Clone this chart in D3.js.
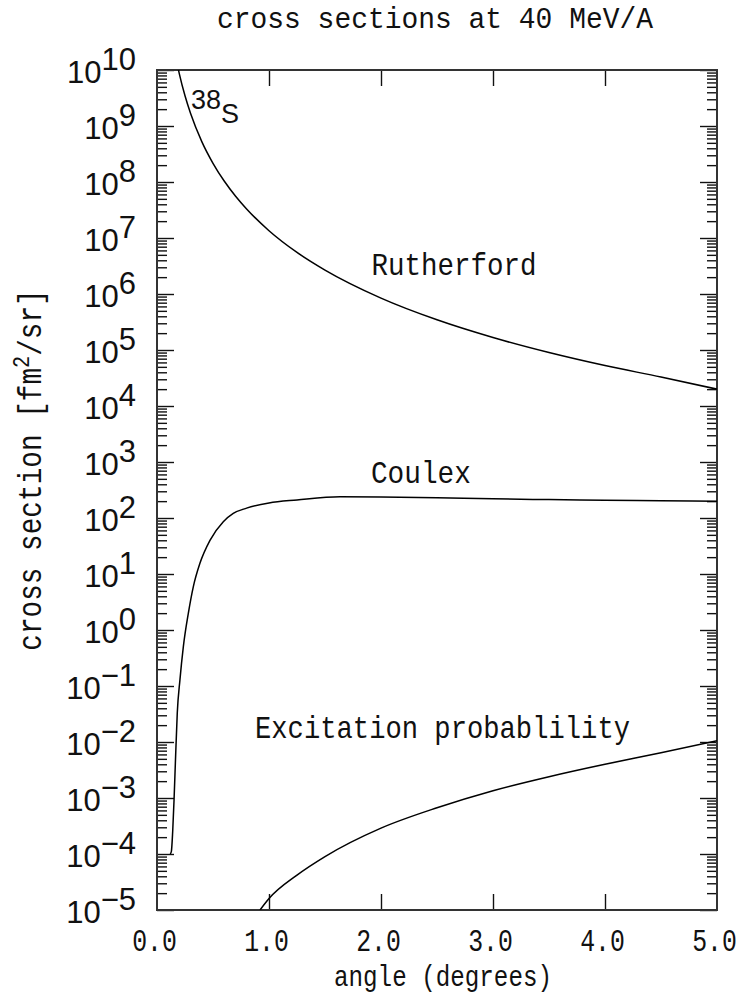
<!DOCTYPE html>
<html><head><meta charset="utf-8">
<script src="https://cdn.jsdelivr.net/npm/d3@7"></script>
<style>
html,body{margin:0;padding:0;background:#fff;}
svg{display:block;}
.mono{font-family:"Liberation Mono","Courier New",monospace;fill:#111;}
.sans{font-family:"Liberation Sans",Arial,sans-serif;fill:#111;}
</style></head>
<body>
<script>
// ---- data ----
const xTicks = [0, 1, 2, 3, 4, 5];
const xTickLabels = ["0.0", "1.0", "2.0", "3.0", "4.0", "5.0"];
const yExponents = [-5, -4, -3, -2, -1, 0, 1, 2, 3, 4, 5, 6, 7, 8, 9, 10];
const yTickLabels = ["−5", "−4", "−3", "−2", "−1", "0", "1", "2", "3", "4", "5", "6", "7", "8", "9", "10"];

const rutherfordAngle = [0.19, 0.2, 0.25, 0.3, 0.4, 0.5, 0.6, 0.7, 0.8, 1.0, 1.25, 1.5, 2.0, 2.5, 3.0, 3.5, 4.0, 4.5, 5.0];
const rutherfordValue = [1.04e10, 8.44e9, 3.46e9, 1.67e9, 5.27e8, 2.16e8, 1.04e8, 5.62e7, 3.30e7, 1.35e7, 5.53e6, 2.67e6, 8.44e5, 3.46e5, 1.67e5, 9.0e4, 5.27e4, 3.29e4, 2.0e4];

const coulexAngle = [0.118, 0.128, 0.14, 0.152, 0.165, 0.181, 0.205, 0.235, 0.28, 0.324, 0.384, 0.473, 0.592, 0.681, 0.8, 1.0, 1.25, 1.634, 2.0, 2.5, 3.0, 3.5, 4.0, 4.5, 5.0];
const coulexValue = [1e-4, 1.1e-4, 2.5e-4, 9e-4, 4.8e-3, 3.3e-2, 0.13, 0.5, 2.0, 5.9, 15.7, 40, 86, 121, 150, 186, 210, 240, 238, 230, 220, 213, 208, 203, 199];

const excitationAngle = [0.92, 1.0, 1.25, 1.5, 2.0, 2.5, 3.0, 3.5, 4.0, 4.5, 5.0];
const excitationValue = [1.0e-5, 1.6e-5, 4.2e-5, 9e-5, 2.9e-4, 6.7e-4, 1.35e-3, 2.4e-3, 4.0e-3, 6.4e-3, 1.05e-2];

const curveLabels = [
  {text: "Rutherford", angle: 1.915, value: 2.2e6, len: 165},
  {text: "Coulex", angle: 1.91, value: 4.2e2, len: 100},
  {text: "Excitation probablility", angle: 0.875, value: 1.18e-2, len: 375}
];

// ---- layout ----
const W = 742, H = 1004;
const m = {left: 157, top: 70, right: 717, bottom: 910};

const svg = d3.select("body").append("svg").attr("width", W).attr("height", H);

const x = d3.scaleLinear().domain([0, 5]).range([m.left, m.right]);
const y = d3.scaleLog().domain([1e-5, 1e10]).range([m.bottom, m.top]);

svg.append("defs").append("clipPath").attr("id", "clip")
  .append("rect").attr("x", m.left).attr("y", m.top)
  .attr("width", m.right - m.left).attr("height", m.bottom - m.top);

// ticks
const majorY = yExponents.map(e => Math.pow(10, e));
const minorY = [];
yExponents.slice(0, -1).forEach(e => { for (let k = 2; k <= 9; k++) minorY.push(k * Math.pow(10, e)); });

function tickGroup(axis, tx, ty) {
  const g = svg.append("g").attr("transform", `translate(${tx},${ty})`).call(axis);
  g.select(".domain").remove();
  g.selectAll("text").remove();
  g.selectAll("line").attr("stroke", "#111").attr("stroke-width", 1.4);
  return g;
}
const inner = xTicks.filter(v => v > 0 && v < 5);
tickGroup(d3.axisBottom(x).tickValues(inner).tickSizeInner(-16).tickSizeOuter(0), 0, m.bottom);
tickGroup(d3.axisTop(x).tickValues(inner).tickSizeInner(-16).tickSizeOuter(0), 0, m.top);
tickGroup(d3.axisLeft(y).tickValues(majorY).tickSizeInner(-17).tickSizeOuter(0), m.left, 0);
tickGroup(d3.axisLeft(y).tickValues(minorY).tickSizeInner(-10).tickSizeOuter(0), m.left, 0);
tickGroup(d3.axisRight(y).tickValues(majorY).tickSizeInner(-17).tickSizeOuter(0), m.right, 0);
tickGroup(d3.axisRight(y).tickValues(minorY).tickSizeInner(-10).tickSizeOuter(0), m.right, 0);

// frame
svg.append("rect").attr("x", m.left).attr("y", m.top)
  .attr("width", m.right - m.left).attr("height", m.bottom - m.top)
  .attr("fill", "none").attr("stroke", "#333").attr("stroke-width", 2);

// curves
const line = d3.line().x(d => x(d[0])).y(d => y(d[1])).curve(d3.curveMonotoneX);
const curves = svg.append("g").attr("clip-path", "url(#clip)");
[[rutherfordAngle, rutherfordValue], [coulexAngle, coulexValue], [excitationAngle, excitationValue]].forEach(([a, v]) => {
  curves.append("path").attr("d", line(a.map((d, i) => [d, v[i]])))
    .attr("fill", "none").attr("stroke", "#000").attr("stroke-width", 1.5);
});

// x tick labels (horizontally condensed via transform)
svg.append("g").selectAll("text").data(xTicks).join("text")
  .attr("class", "mono").attr("font-size", 31).attr("text-anchor", "middle")
  .attr("transform", d => `translate(${x(d) - 2.5},951) scale(0.8,1)`)
  .text((d, i) => xTickLabels[i]);

// y tick labels
const yl = svg.append("g").selectAll("text").data(yExponents).join("text")
  .attr("class", "sans").attr("font-size", 31).attr("text-anchor", "end")
  .attr("x", 136).attr("y", d => y(Math.pow(10, d)) + 13);
yl.append("tspan").text("10");
yl.append("tspan").attr("dy", -13).text((d, i) => yTickLabels[i]);

// title and axis titles
svg.append("text").attr("class", "mono").attr("font-size", 30)
  .attr("textLength", 436).attr("lengthAdjust", "spacingAndGlyphs")
  .attr("x", 217).attr("y", 28).text("cross sections at 40 MeV/A");
svg.append("text").attr("class", "mono").attr("font-size", 29)
  .attr("textLength", 218).attr("lengthAdjust", "spacingAndGlyphs")
  .attr("x", 334).attr("y", 986).text("angle (degrees)");
const yt = svg.append("text").attr("class", "mono").attr("font-size", 33).attr("text-anchor", "middle")
  .attr("transform", "translate(41,470) rotate(-90) scale(0.84,1)");
yt.append("tspan").text("cross section [fm");
yt.append("tspan").attr("font-size", 24).attr("dy", -12).text("2");
yt.append("tspan").attr("dy", 12).text("/sr]");

// curve labels
svg.append("g").selectAll("text").data(curveLabels).join("text")
  .attr("class", "mono").attr("font-size", 32)
  .attr("textLength", d => d.len).attr("lengthAdjust", "spacingAndGlyphs")
  .attr("x", d => x(d.angle)).attr("y", d => y(d.value)).text(d => d.text);

// nucleus label
const nl = svg.append("text").attr("class", "sans").attr("font-size", 27).attr("x", 191).attr("y", 109);
nl.append("tspan").text("38");
nl.append("tspan").attr("dy", 14).text("S");
</script>
</body></html>
